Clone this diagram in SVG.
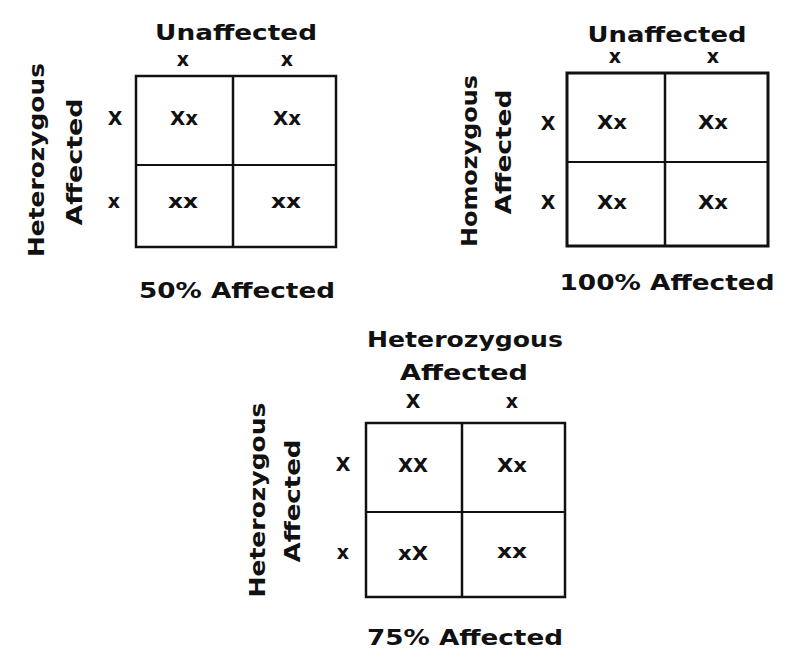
<svg xmlns="http://www.w3.org/2000/svg" width="792" height="662" viewBox="0 0 792 662">
<style>
.t{font-family:"DejaVu Sans","Liberation Sans",sans-serif;font-weight:bold;fill:#111;text-anchor:middle}
.lab{font-size:21px}
.c{font-size:19px}
.g{fill:none;stroke:#111;stroke-width:2.5}
.l{stroke:#111;stroke-width:2}
</style>
<rect width="792" height="662" fill="#fff"/>
<g id="square1">
<rect class="g" x="136" y="76" width="200" height="171"/>
<line class="l" x1="233" y1="76" x2="233" y2="247" style="stroke-width:2.5"/>
<line class="l" x1="136" y1="165" x2="336" y2="165"/>
<text class="t lab" x="236" y="40" textLength="162" lengthAdjust="spacingAndGlyphs">Unaffected</text>
<text class="t c" x="183" y="66">x</text>
<text class="t c" x="287" y="66">x</text>
<text class="t c" x="115" y="125">X</text>
<text class="t c" x="114" y="208">x</text>
<text class="t c" x="184" y="125" textLength="28" lengthAdjust="spacingAndGlyphs">Xx</text>
<text class="t c" x="287" y="125" textLength="28" lengthAdjust="spacingAndGlyphs">Xx</text>
<text class="t c" x="183" y="208" textLength="30" lengthAdjust="spacingAndGlyphs">xx</text>
<text class="t c" x="286" y="208" textLength="30" lengthAdjust="spacingAndGlyphs">xx</text>
<text class="t lab" transform="translate(37,160) rotate(-90)" x="0" y="7" textLength="194" lengthAdjust="spacingAndGlyphs">Heterozygous</text>
<text class="t lab" transform="translate(74,162) rotate(-90)" x="0" y="8" textLength="127" lengthAdjust="spacingAndGlyphs">Affected</text>
<text class="t lab" x="237" y="298" textLength="196" lengthAdjust="spacingAndGlyphs">50% Affected</text>
</g>
<g id="square2">
<rect class="g" x="567" y="73" width="201" height="173" style="stroke-width:3"/>
<line class="l" x1="665" y1="73" x2="665" y2="246" style="stroke-width:2.5"/>
<line class="l" x1="567" y1="162" x2="768" y2="162"/>
<text class="t lab" x="667" y="42" textLength="159" lengthAdjust="spacingAndGlyphs">Unaffected</text>
<text class="t c" x="615" y="63">x</text>
<text class="t c" x="713" y="63">x</text>
<text class="t c" x="548" y="130">X</text>
<text class="t c" x="548" y="209">X</text>
<text class="t c" x="612" y="129" textLength="30" lengthAdjust="spacingAndGlyphs">Xx</text>
<text class="t c" x="713" y="129" textLength="30" lengthAdjust="spacingAndGlyphs">Xx</text>
<text class="t c" x="612" y="209" textLength="30" lengthAdjust="spacingAndGlyphs">Xx</text>
<text class="t c" x="713" y="209" textLength="30" lengthAdjust="spacingAndGlyphs">Xx</text>
<text class="t lab" transform="translate(470,161) rotate(-90)" x="0" y="7" textLength="172" lengthAdjust="spacingAndGlyphs">Homozygous</text>
<text class="t lab" transform="translate(503,152) rotate(-90)" x="0" y="8" textLength="125" lengthAdjust="spacingAndGlyphs">Affected</text>
<text class="t lab" x="667" y="290" textLength="215" lengthAdjust="spacingAndGlyphs">100% Affected</text>
</g>
<g id="square3">
<rect class="g" x="366" y="423" width="199" height="174"/>
<line class="l" x1="462" y1="423" x2="462" y2="597" style="stroke-width:2.5"/>
<line class="l" x1="366" y1="512" x2="565" y2="512"/>
<text class="t lab" x="465" y="347" textLength="196" lengthAdjust="spacingAndGlyphs">Heterozygous</text>
<text class="t lab" x="464" y="380" textLength="128" lengthAdjust="spacingAndGlyphs">Affected</text>
<text class="t c" x="413" y="408">X</text>
<text class="t c" x="512" y="408">x</text>
<text class="t c" x="343" y="471">X</text>
<text class="t c" x="343" y="559">x</text>
<text class="t c" x="413" y="472" textLength="30" lengthAdjust="spacingAndGlyphs">XX</text>
<text class="t c" x="512" y="472" textLength="30" lengthAdjust="spacingAndGlyphs">Xx</text>
<text class="t c" x="413" y="560" textLength="30" lengthAdjust="spacingAndGlyphs">xX</text>
<text class="t c" x="512" y="558" textLength="30" lengthAdjust="spacingAndGlyphs">xx</text>
<text class="t lab" transform="translate(258,500) rotate(-90)" x="0" y="7" textLength="195" lengthAdjust="spacingAndGlyphs">Heterozygous</text>
<text class="t lab" transform="translate(292,501) rotate(-90)" x="0" y="8" textLength="123" lengthAdjust="spacingAndGlyphs">Affected</text>
<text class="t lab" x="465" y="645" textLength="196" lengthAdjust="spacingAndGlyphs">75% Affected</text>
</g>
</svg>
